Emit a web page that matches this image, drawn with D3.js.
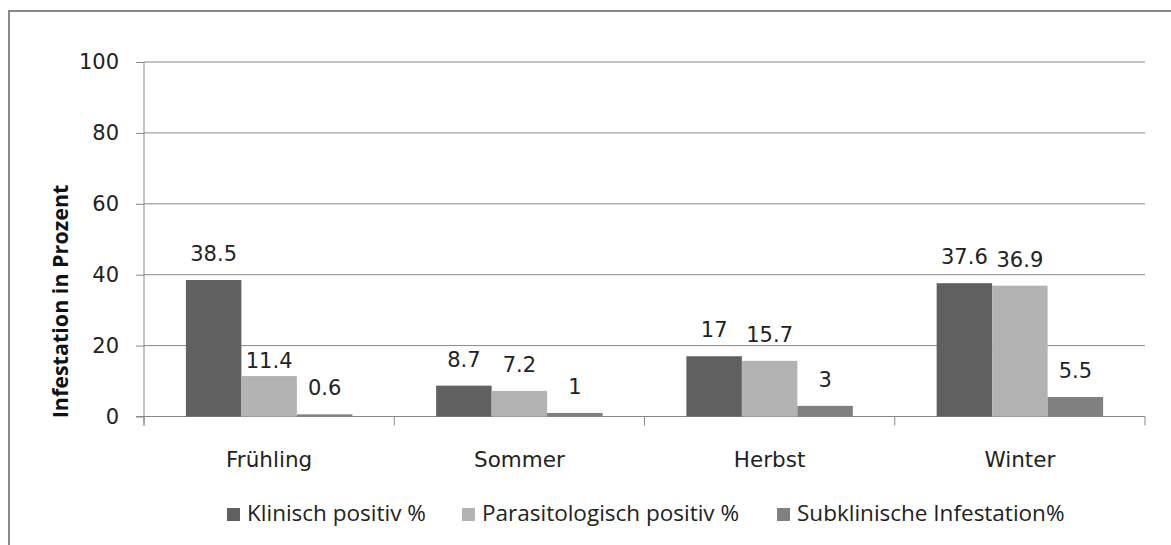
<!DOCTYPE html>
<html>
<head>
<meta charset="utf-8">
<script src="https://cdn.jsdelivr.net/npm/d3@7"></script>
<style>
  body { margin: 0; background: #fff; }
  svg { display: block; }
</style>
</head>
<body>
<div id="chart"></div>
<script>
// chart data
var seasons = ["Frühling", "Sommer", "Herbst", "Winter"];
var seriesNames = ["Klinisch positiv %", "Parasitologisch positiv %", "Subklinische Infestation%"];
var klinisch = [38.5, 8.7, 17, 37.6];
var parasit = [11.4, 7.2, 15.7, 36.9];
var subklin = [0.6, 1, 3, 5.5];
var yTicks = [0, 20, 40, 60, 80, 100];

var colors = ["#606060", "#b3b3b3", "#808080"];
var values = [klinisch, parasit, subklin];

var svgWidth = 1171;
var svgHeight = 545;

var margin = { top: 62, left: 144, right: 26, bottom: 128.5 };
var width = svgWidth - margin.left - margin.right;
var height = svgHeight - margin.top - margin.bottom;

var svg = d3.select("#chart")
    .append("svg")
        .attr("width", svgWidth)
        .attr("height", svgHeight);

// outer frame (only top and left edges show in the picture)
svg.append("rect")
    .attr("x", 9)
    .attr("y", 11)
    .attr("width", 1300)
    .attr("height", 700)
    .style("fill", "none")
    .style("stroke", "#888")
    .style("stroke-width", 2);

var chartGroup = svg.append("g")
    .attr("transform", `translate(${margin.left}, ${margin.top})`);

var x = d3.scaleBand()
    .domain(seasons)
    .range([0, width]);

var xSub = d3.scaleBand()
    .domain(d3.range(seriesNames.length))
    .range([0, x.bandwidth()])
    .paddingInner(0)
    .paddingOuter(0.755);

var y = d3.scaleLinear()
    .domain([0, 100])
    .range([height, 0]);

// gridlines
chartGroup.append("g")
    .selectAll("line")
    .data(yTicks.filter(d => d > 0))
    .enter()
    .append("line")
        .attr("x1", 0)
        .attr("x2", width)
        .attr("y1", d => y(d))
        .attr("y2", d => y(d))
        .style("stroke", "#888")
        .style("stroke-width", 1);

// y axis
var yAxis = d3.axisLeft(y).tickValues(yTicks).tickSize(8).tickPadding(17);
var yG = chartGroup.append("g").call(yAxis);
yG.select(".domain").remove();
yG.selectAll(".tick line").style("stroke", "#888");
yG.selectAll("text")
    .style("font-family", "DejaVu Sans")
    .style("font-size", "21px")
    .style("fill", "#222");
chartGroup.append("line")
    .attr("x1", 0).attr("x2", 0)
    .attr("y1", 0).attr("y2", height + 9)
    .style("stroke", "#888");

// x axis
chartGroup.append("line")
    .attr("x1", -8).attr("x2", width)
    .attr("y1", height).attr("y2", height)
    .style("stroke", "#888");
var bounds = [0].concat(seasons.map(s => x(s) + x.bandwidth()));
chartGroup.append("g")
    .selectAll("line")
    .data(bounds)
    .enter()
    .append("line")
        .attr("x1", d => d).attr("x2", d => d)
        .attr("y1", height).attr("y2", height + 9)
        .style("stroke", "#888");

chartGroup.append("g")
    .selectAll("text")
    .data(seasons)
    .enter()
    .append("text")
        .attr("x", d => x(d) + x.bandwidth() / 2)
        .attr("y", height + 50)
        .attr("text-anchor", "middle")
        .style("font-family", "DejaVu Sans")
        .style("font-size", "21.5px")
        .style("fill", "#222")
        .text(d => d);

// bars + value labels
var labelNudge = { "1|0": 11 }; // 11.4 sits lower in the original
values.forEach(function(vals, si) {
    var g = chartGroup.append("g");
    g.selectAll("rect")
        .data(vals)
        .enter()
        .append("rect")
            .attr("x", (d, i) => x(seasons[i]) + xSub(si))
            .attr("y", d => y(d))
            .attr("width", xSub.bandwidth())
            .attr("height", d => height - y(d))
            .style("fill", colors[si]);
    g.selectAll("text")
        .data(vals)
        .enter()
        .append("text")
            .attr("x", (d, i) => x(seasons[i]) + xSub(si) + xSub.bandwidth() / 2)
            .attr("y", (d, i) => y(d) - 19 + (labelNudge[si + "|" + i] || 0))
            .attr("text-anchor", "middle")
            .style("font-family", "DejaVu Sans")
            .style("font-size", "21px")
            .style("fill", "#222")
            .text(d => d);
});

// y axis title
svg.append("text")
    .attr("transform", "translate(68,301.5) rotate(-90)")
    .attr("text-anchor", "middle")
    .style("font-family", "Open Sans")
    .style("font-weight", "bold")
    .style("font-size", "21.5px")
    .style("fill", "#111")
    .text("Infestation in Prozent");

// legend
var legendX = [227, 462, 777];
var legend = svg.append("g");
seriesNames.forEach(function(name, i) {
    legend.append("rect")
        .attr("x", legendX[i])
        .attr("y", 508)
        .attr("width", 13)
        .attr("height", 13)
        .style("fill", colors[i]);
    legend.append("text")
        .attr("x", legendX[i] + 20)
        .attr("y", 521)
        .style("font-family", "Open Sans")
        .style("font-size", "22.5px")
        .style("fill", "#222")
        .text(name);
});
</script>
</body>
</html>
